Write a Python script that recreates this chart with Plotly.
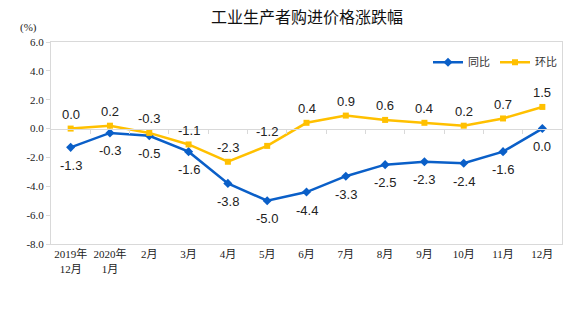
import plotly.graph_objects as go

categories = ["2019年<br>12月", "2020年<br>1月", "2月", "3月", "4月", "5月", "6月",
              "7月", "8月", "9月", "10月", "11月", "12月"]
yoy = [-1.3, -0.3, -0.5, -1.6, -3.8, -5.0, -4.4, -3.3, -2.5, -2.3, -2.4, -1.6, 0.0]
mom = [0.0, 0.2, -0.3, -1.1, -2.3, -1.2, 0.4, 0.9, 0.6, 0.4, 0.2, 0.7, 1.5]
yticks = [-8.0, -6.0, -4.0, -2.0, 0.0, 2.0, 4.0, 6.0]

blue = "#0a5fc8"
yellow = "#ffc000"
grey = "#d9d9d9"
label_font = dict(family="Liberation Sans, Arial, Noto Sans CJK SC", size=13, color="#222")
tick_font = dict(family="Liberation Serif, Noto Sans CJK SC", size=11, color="#222")

x = list(range(len(categories)))
fig = go.Figure()
fig.add_trace(go.Scatter(
    x=x, y=yoy, name="同比", mode="lines+markers",
    line=dict(color=blue, width=2.5), marker=dict(symbol="diamond", size=7, color=blue),
    cliponaxis=False))
fig.add_trace(go.Scatter(
    x=x, y=mom, name="环比", mode="lines+markers",
    line=dict(color=yellow, width=2.5), marker=dict(symbol="square", size=6, color=yellow),
    cliponaxis=False))

for i, v in enumerate(yoy):
    fig.add_annotation(x=i, y=v, text=f"{v:.1f}", showarrow=False, yshift=-18,
                       font=label_font, xref="x", yref="y")
for i, v in enumerate(mom):
    fig.add_annotation(x=i, y=v, text=f"{v:.1f}", showarrow=False, yshift=14,
                       font=label_font, xref="x", yref="y")

fig.update_layout(
    width=576, height=325, margin=dict(l=51, r=14, t=42, b=81),
    paper_bgcolor="white", plot_bgcolor="white",
    title=dict(text="工业生产者购进价格涨跌幅", x=0.533, xanchor="center", y=0.948, yanchor="middle",
               font=dict(family="Noto Sans CJK SC", size=16, color="#111")),
    showlegend=True,
    legend=dict(orientation="h", x=1.0, xanchor="right", y=0.90, yanchor="middle",
                font=dict(family="Noto Sans CJK SC", size=11, color="#333"),
                bgcolor="rgba(0,0,0,0)", tracegroupgap=0),
    xaxis=dict(tickmode="array", tickvals=x, ticktext=categories, range=[-0.5, 12.5],
               showgrid=False, zeroline=False, showline=True, linecolor=grey, mirror=True,
               ticks="", tickfont=tick_font),
    xaxis2=dict(overlaying="x", anchor="free", position=8 / 14, range=[-0.5, 12.5],
                tickvals=[i + 0.5 for i in x[:-1]], ticks="outside", ticklen=4,
                tickcolor=grey, showticklabels=False, showline=True, linecolor=grey,
                showgrid=False, zeroline=False),
    yaxis=dict(range=[-8, 6], tickvals=yticks, ticktext=[f"{v:.1f}" for v in yticks],
               showgrid=False, zeroline=False, showline=True, linecolor=grey, mirror=True,
               ticks="outside", ticklen=4, tickcolor=grey, tickfont=tick_font),
)
# invisible trace to activate the zero-level category axis
fig.add_trace(go.Scatter(x=[x[0]], y=[0], xaxis="x2", mode="markers",
                         marker=dict(opacity=0), showlegend=False, hoverinfo="skip"))
fig.data = fig.data[-1:] + fig.data[:-1]
fig.add_annotation(text="(%)", xref="paper", yref="paper", x=-0.023, y=1.03, xanchor="right",
                   yanchor="bottom", showarrow=False, font=tick_font)
fig.write_html("out.html")
